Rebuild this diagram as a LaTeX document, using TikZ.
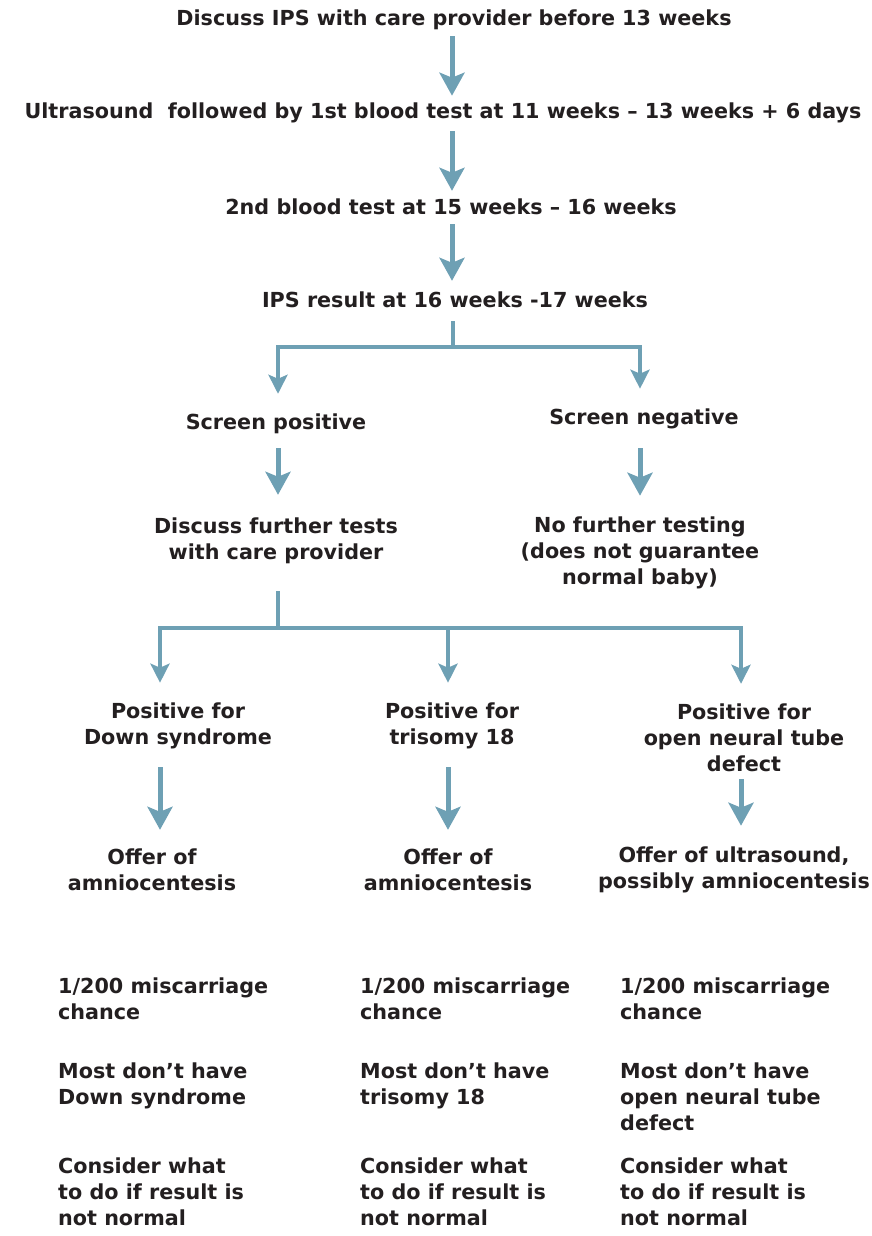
\documentclass[tikz,border=0pt]{standalone}
\usepackage{fontspec}
\setmainfont{DejaVu Sans}
\usetikzlibrary{arrows.meta,calc}
\definecolor{arrowblue}{RGB}{110,160,180}
\definecolor{txt}{RGB}{35,31,32}
\begin{document}
\begin{tikzpicture}[x=1pt,y=-1pt,
  every node/.style={font=\bfseries\fontsize{20.7}{26}\selectfont, text=txt, inner sep=0pt, align=center},
  lefttext/.style={align=left, anchor=north west},
  bigarr/.style={draw=arrowblue, line width=5pt, -{Stealth[length=23pt,width=25pt,inset=5pt]}},
  forkarr/.style={draw=arrowblue, line width=4pt, line join=miter, -{Stealth[length=19pt,width=19pt,inset=4pt]}},
  forkline/.style={draw=arrowblue, line width=4pt, line join=miter}]
\useasboundingbox (0,0) rectangle (871,1236);
% main column
\node (T1) at (454,20) {Discuss IPS with care provider before 13 weeks};
\node (T2) at (443,113) {Ultrasound\ \ followed by 1st blood test at 11 weeks – 13 weeks + 6 days};
\node (T3) at (451,207) {2nd blood test at 15 weeks – 16 weeks};
\node (T4) at (455,300) {IPS result at 16 weeks -17 weeks};
\node (SP) at (276,424) {Screen positive};
\node (SN) at (644,419) {Screen negative};
\node (DF) at (276,541) {Discuss further tests\\with care provider};
\node (NF) at (640,553) {No further testing\\(does not guarantee\\normal baby)};
\node (P1) at (178,726) {Positive for\\Down syndrome};
\node (P2) at (452,726) {Positive for\\trisomy 18};
\node (P3) at (744,738) {Positive for\\open neural tube\\defect};
\node (O1) at (152,870) {Offer of\\amniocentesis};
\node (O2) at (448,870) {Offer of\\amniocentesis};
\node (O3) at (734,870) {Offer of ultrasound,\\possibly amniocentesis};
% bottom notes
\node[lefttext] (B11) at (58,978) {1/200 miscarriage\\chance};
\node[lefttext] (B12) at (360,978) {1/200 miscarriage\\chance};
\node[lefttext] (B13) at (620,978) {1/200 miscarriage\\chance};
\node[lefttext] (B21) at (58,1063) {Most don’t have\\Down syndrome};
\node[lefttext] (B22) at (360,1063) {Most don’t have\\trisomy 18};
\node[lefttext] (B23) at (620,1063) {Most don’t have\\open neural tube\\defect};
\node[lefttext] (B31) at (58,1158) {Consider what\\to do if result is\\not normal};
\node[lefttext] (B32) at (360,1158) {Consider what\\to do if result is\\not normal};
\node[lefttext] (B33) at (620,1158) {Consider what\\to do if result is\\not normal};
% x positions of connectors
\coordinate (xM) at (452,0);
\coordinate (xL) at (160,0);
\coordinate (xC) at (448,0);
\coordinate (xR) at (741,0);
\coordinate (xSP) at (278,0);
\coordinate (xSN) at (640,0);
% connectors, main column
\draw[bigarr, shorten <=6pt, shorten >=7pt] (T1.south -| xM) -- (T2.north -| xM);
\draw[bigarr, shorten <=8pt, shorten >=8pt] (T2.south -| xM) -- (T3.north -| xM);
\draw[bigarr, shorten <=9pt, shorten >=11pt] (T3.south -| xM) -- (T4.north -| xM);
% fork 1
\coordinate (f1) at (453,347);
\draw[forkline, shorten <=13pt] (T4.south -| f1) -- (f1);
\draw[forkarr, shorten >=20pt] (f1) -| (SP.north -| xSP);
\draw[forkarr, shorten >=20pt] (f1) -| (SN.north -| xSN);
\draw[bigarr, shorten <=14pt, shorten >=23pt] (SP.south -| xSP) -- (DF.north -| xSP);
\draw[bigarr, shorten <=19pt, shorten >=21pt] (SN.south -| xSN) -- (NF.north -| xSN);
% fork 2
\coordinate (f2) at (278,628);
\draw[forkline, shorten <=27pt] (DF.south -| xSP) -- (f2);
\draw[forkarr, shorten >=20pt] (f2) -| (P1.north -| xL);
\draw[forkarr, shorten >=20pt] (xC |- f2) -- (P2.north -| xC);
\draw[forkarr, shorten >=20pt] (f2) -| (P3.north -| xR);
\draw[bigarr, shorten <=18pt, shorten >=19pt] (P1.south -| xL) -- (O1.north -| xL);
\draw[bigarr, shorten <=18pt, shorten >=19pt] (P2.south -| xC) -- (O2.north -| xC);
\draw[bigarr, shorten <=7pt, shorten >=21pt] (P3.south -| xR) -- (O3.north -| xR);
\end{tikzpicture}
\end{document}
